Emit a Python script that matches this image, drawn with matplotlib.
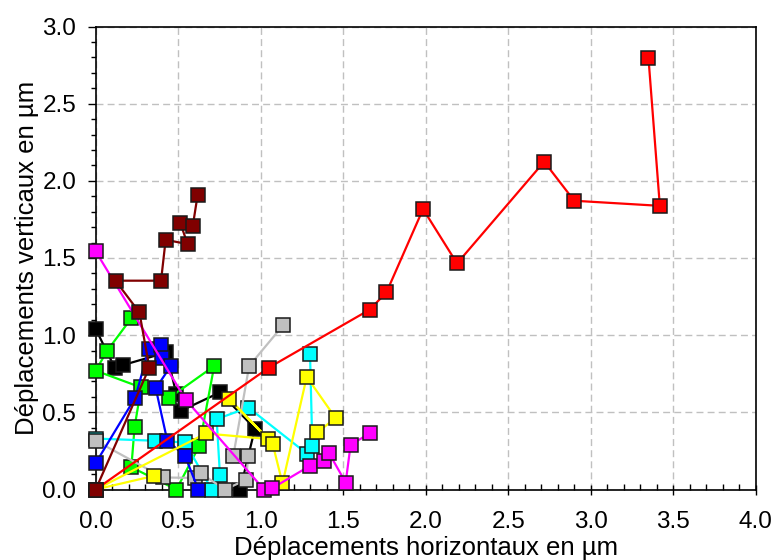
import matplotlib
matplotlib.use("Agg")
import matplotlib.pyplot as plt
from matplotlib.ticker import MultipleLocator, FormatStrFormatter

plt.rcParams['font.family'] = ['Liberation Sans', 'DejaVu Sans']

# ---- data ----
black_x = [0.0, 0.115, 0.165, 0.428, 0.489, 0.517, 0.753, 0.965, 0.876]
black_y = [1.04, 0.79, 0.806, 0.888, 0.618, 0.51, 0.629, 0.395, 0.0]

green_x = [0.215, 0.07, 0.0, 0.276, 0.236, 0.216, 0.489, 0.628, 0.718, 0.444]
green_y = [1.108, 0.90, 0.77, 0.661, 0.408, 0.144, 0.0, 0.283, 0.80, 0.592]

cyan_x = [0.0, 0.357, 0.541, 0.703, 0.753, 0.733, 0.925, 1.279, 1.313, 1.299]
cyan_y = [0.33, 0.316, 0.305, 0.0, 0.093, 0.456, 0.531, 0.233, 0.279, 0.877]

gray_x = [0.0, 0.408, 0.60, 0.636, 0.784, 0.911, 0.925, 0.834, 0.93, 1.138]
gray_y = [0.316, 0.078, 0.075, 0.105, 0.0, 0.063, 0.218, 0.218, 0.80, 1.067]

blue_x = [0.0, 0.24, 0.321, 0.398, 0.402, 0.455, 0.364, 0.434, 0.541, 0.622]
blue_y = [0.171, 0.596, 0.91, 0.936, 0.849, 0.80, 0.655, 0.316, 0.218, 0.0]

yellow_x = [0.356, 0.0, 0.668, 1.046, 0.81, 1.073, 1.132, 1.279, 1.454, 1.343]
yellow_y = [0.089, 0.0, 0.363, 0.327, 0.586, 0.294, 0.039, 0.73, 0.463, 0.37]

magenta_x = [0.0, 0.545, 1.02, 1.071, 1.299, 1.383, 1.414, 1.515, 1.545, 1.66]
magenta_y = [1.543, 0.583, 0.0, 0.009, 0.154, 0.186, 0.236, 0.045, 0.29, 0.363]

red_x = [0.0, 1.05, 1.66, 1.762, 1.984, 2.19, 2.718, 2.90, 3.419, 3.35]
red_y = [0.0, 0.79, 1.165, 1.277, 1.817, 1.465, 2.124, 1.871, 1.838, 2.798]

maroon_x = [0.0, 0.325, 0.265, 0.12, 0.396, 0.424, 0.557, 0.513, 0.588, 0.618]
maroon_y = [0.0, 0.79, 1.147, 1.353, 1.353, 1.618, 1.59, 1.726, 1.705, 1.91]

series = [
    (black_x, black_y, '#000000'),
    (green_x, green_y, '#00FF00'),
    (cyan_x, cyan_y, '#00FFFF'),
    (gray_x, gray_y, '#C0C0C0'),
    (blue_x, blue_y, '#0000FF'),
    (yellow_x, yellow_y, '#FFFF00'),
    (magenta_x, magenta_y, '#FF00FF'),
    (red_x, red_y, '#FF0000'),
    (maroon_x, maroon_y, '#800000'),
]

x_label = "Déplacements horizontaux en µm"
y_label = "Déplacements verticaux en µm"

fig = plt.figure(figsize=(7.74, 5.60), dpi=100)
ax = fig.add_axes([95.7 / 774, 1 - 489.5 / 560, 660 / 774, 463 / 560])

for xs, ys, c in series:
    ax.plot(xs, ys, color=c, lw=1.6, marker='s', markersize=10.5,
            markerfacecolor=c, markeredgecolor='#1a1a1a', markeredgewidth=1.1,
            clip_on=False, zorder=3)

ax.set_xlim(0, 4.0)
ax.set_ylim(0, 3.0)
ax.xaxis.set_major_locator(MultipleLocator(0.5))
ax.xaxis.set_minor_locator(MultipleLocator(0.1))
ax.yaxis.set_major_locator(MultipleLocator(0.5))
ax.yaxis.set_minor_locator(MultipleLocator(0.1))
ax.xaxis.set_major_formatter(FormatStrFormatter('%.1f'))
ax.yaxis.set_major_formatter(FormatStrFormatter('%.1f'))

ax.grid(True, which='major', color='#c0c0c0', linestyle=(0, (5, 3)), lw=1.0, zorder=0)
ax.set_axisbelow(True)

ax.tick_params(axis='y', which='major', direction='out', length=6, width=1, labelsize=17.5, pad=8)
ax.tick_params(axis='y', which='minor', direction='out', length=3.5, width=1)
ax.tick_params(axis='x', which='major', direction='inout', length=7, width=1, labelsize=17.5, pad=12)
ax.tick_params(axis='x', which='minor', direction='in', length=4, width=1)

for sp in ax.spines.values():
    sp.set_linewidth(1.2)

ax.set_xlabel(x_label, fontsize=18.5)
ax.set_ylabel(y_label, fontsize=18.5)
ax.xaxis.set_label_coords(0.5, (489.5 - 548) / 463)
ax.xaxis.label.set_va('center')
ax.yaxis.set_label_coords((27 - 95.7) / 660, 0.5)
ax.yaxis.label.set_va('center')

fig.savefig('out.png', dpi=100)
